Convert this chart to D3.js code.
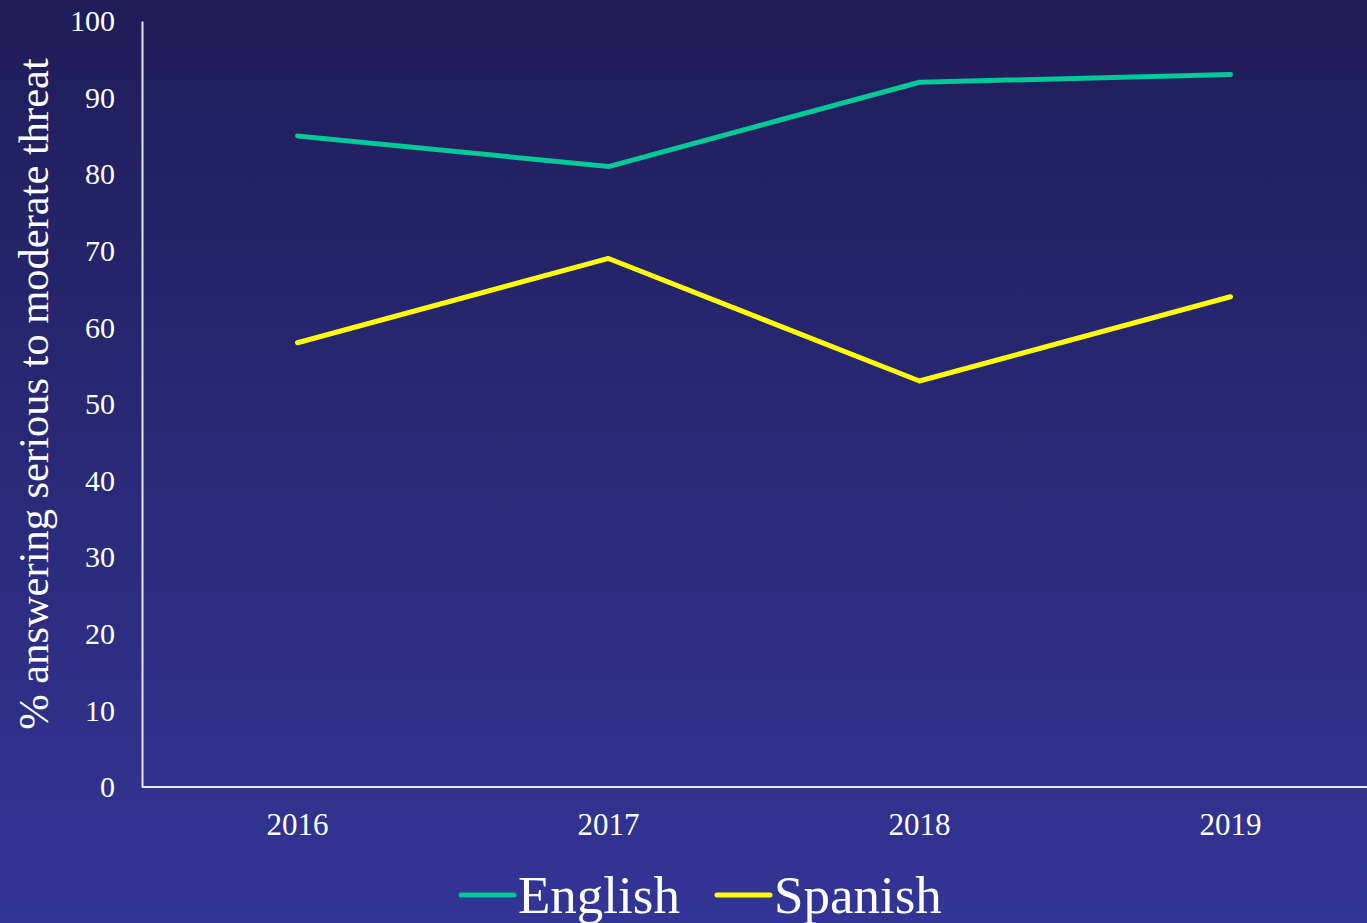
<!DOCTYPE html>
<html><head><meta charset="utf-8">
<script src="https://cdn.jsdelivr.net/npm/d3@7"></script>
<style>
html,body{margin:0;padding:0;overflow:hidden;}
svg{display:block;}
</style></head>
<body>
<svg id="chart" width="1367" height="923"></svg>
<script>
const years = ["2016","2017","2018","2019"];
const english = [85, 81, 92, 93];
const spanish = [58, 69, 53, 64];
const yTicks = [0,10,20,30,40,50,60,70,80,90,100];
const seriesNames = ["English","Spanish"];
const seriesColors = ["#00c896","#ffff00"];

(function(){
const W = 1367, H = 923;
const svg = d3.select("#chart");
const defs = svg.append("defs");
const grad = defs.append("linearGradient").attr("id","bg").attr("x1",0).attr("y1",0).attr("x2",0).attr("y2",1);
grad.append("stop").attr("offset","0%").attr("stop-color","#1f1d58");
grad.append("stop").attr("offset","100%").attr("stop-color","#333596");
svg.append("rect").attr("width",W).attr("height",H).attr("fill","url(#bg)");

const mLeft = 142, mTop = 21, mBottom = 787;
const x = d3.scalePoint().domain(years).range([297.5, 297.5 + 3*311]);
const y = d3.scaleLinear().domain([0,100]).range([mBottom, mTop]);

const font = "'Liberation Serif','Times New Roman',serif";

const yAxis = svg.append("g").attr("transform",`translate(${mLeft},0)`)
  .call(d3.axisLeft(y).tickValues(yTicks).tickSize(0).tickPadding(27));
yAxis.select(".domain").attr("stroke","#e6e6e6").attr("stroke-width",2);
yAxis.selectAll("text").attr("fill","#ffffff").style("font-family",font).style("font-size","30px");

const xAxisG = svg.append("g").attr("transform",`translate(0,${mBottom})`);
xAxisG.append("line").attr("x1",mLeft).attr("x2",W).attr("y1",0).attr("y2",0)
  .attr("stroke","#e6e6e6").attr("stroke-width",2);
xAxisG.selectAll("text.xl").data(years).enter().append("text")
  .attr("x",d=>x(d)).attr("y",48).attr("text-anchor","middle")
  .attr("fill","#ffffff").style("font-family",font).style("font-size","31px").text(d=>d);

svg.append("text").attr("transform",`translate(48,394) rotate(-90)`)
  .attr("text-anchor","middle").attr("fill","#ffffff")
  .style("font-family",font).style("font-size","42.5px")
  .text("% answering serious to moderate threat");

const line = d3.line().x((d,i)=>x(years[i])).y(d=>y(d));
[english, spanish].forEach((s,i)=>{
  svg.append("path").datum(s).attr("d",line).attr("fill","none")
    .attr("stroke",seriesColors[i]).attr("stroke-width",5)
    .attr("stroke-linecap","round").attr("stroke-linejoin","round");
});

const legendItems = [{x:461, name:seriesNames[0], c:seriesColors[0]},{x:717, name:seriesNames[1], c:seriesColors[1]}];
legendItems.forEach(it=>{
  svg.append("line").attr("x1",it.x).attr("x2",it.x+53).attr("y1",895).attr("y2",895)
    .attr("stroke",it.c).attr("stroke-width",5).attr("stroke-linecap","round");
  svg.append("text").attr("x",it.x+57).attr("y",913).attr("fill","#ffffff")
    .style("font-family",font).style("font-size","53px").text(it.name);
});
})();
</script>
</body></html>
